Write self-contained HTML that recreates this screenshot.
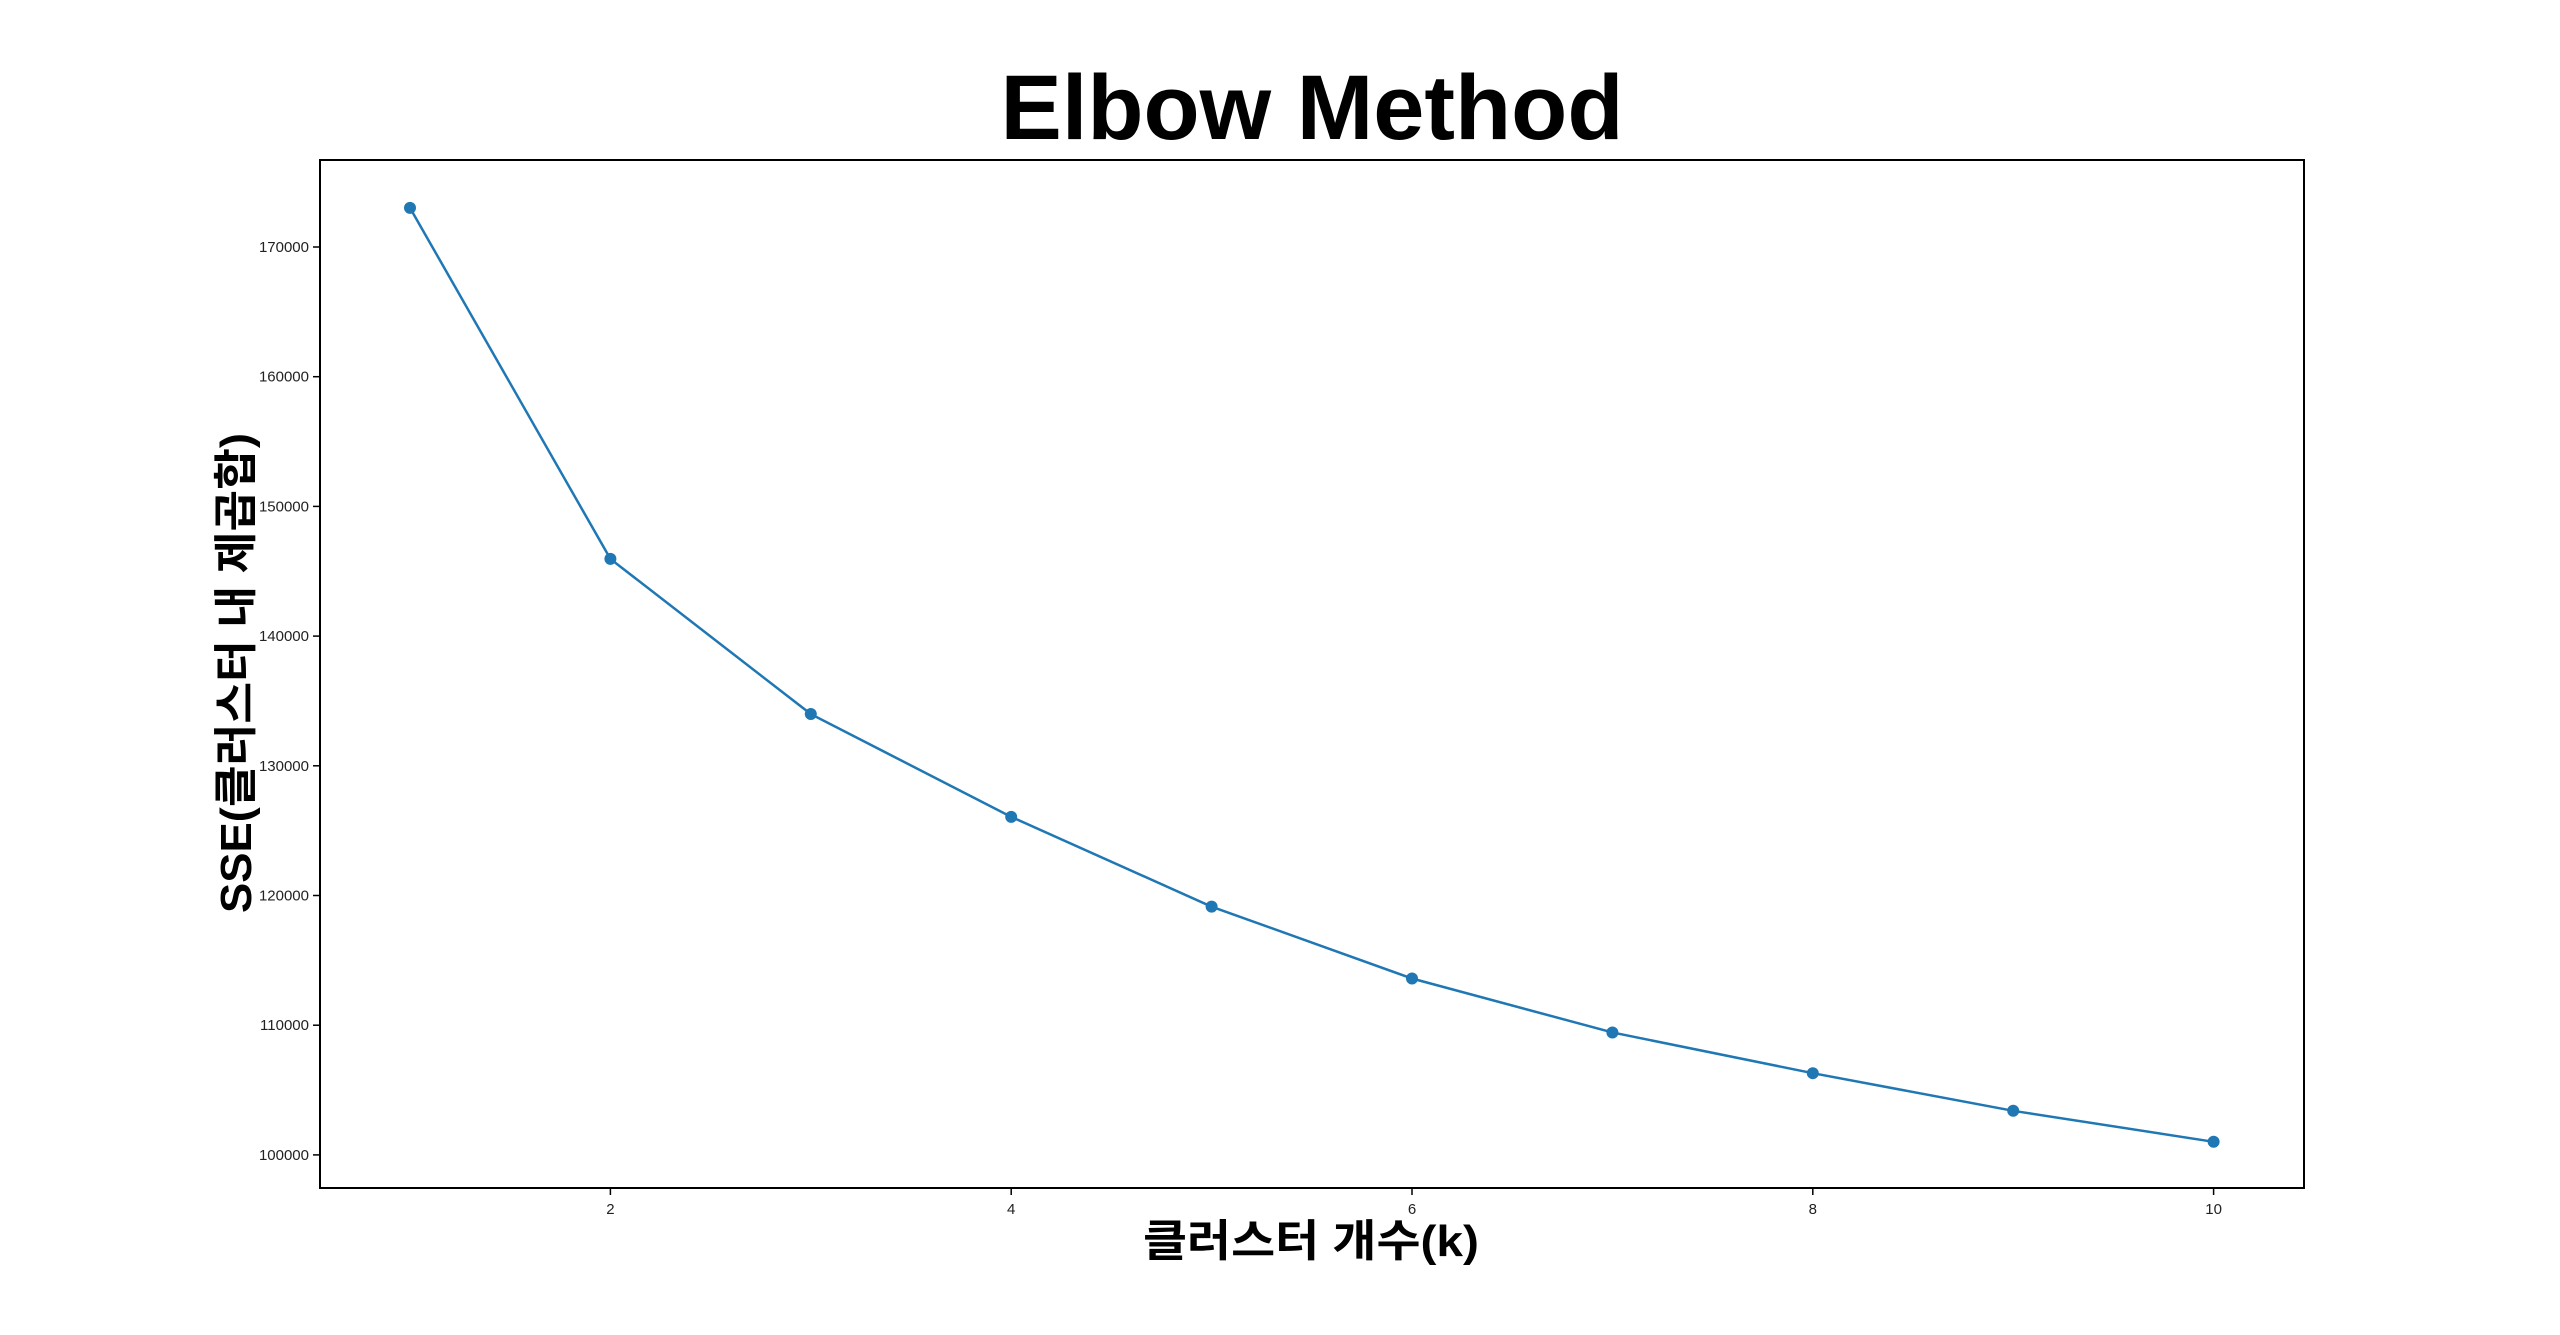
<!DOCTYPE html>
<html><head><meta charset="utf-8"><style>
html,body{margin:0;padding:0;background:#fff;}
svg{display:block;}
text{font-family:"Liberation Sans","Noto Sans CJK KR",sans-serif;}
</style></head><body>
<svg id="chart" width="2560" height="1335" viewBox="0 0 2560 1335" xmlns="http://www.w3.org/2000/svg">
<rect width="2560" height="1335" fill="#fff"/>
<text x="1312" y="139" font-size="92" font-weight="bold" text-anchor="middle" textLength="623" lengthAdjust="spacingAndGlyphs">Elbow Method</text>
<text transform="translate(251,673) rotate(-90)" font-size="44" font-weight="bold" text-anchor="middle" textLength="480" lengthAdjust="spacingAndGlyphs">SSE(클러스터 내 제곱합)</text>
<text x="1311" y="1256" font-size="44" font-weight="bold" text-anchor="middle" textLength="336" lengthAdjust="spacingAndGlyphs">클러스터 개수(k)</text>
<g id="ticks"></g>
<g id="series"></g>
<rect x="320" y="160" width="1984" height="1028" fill="none" stroke="#000" stroke-width="2"/>
</svg>
<script>
const kValues = [1,2,3,4,5,6,7,8,9,10];
const sseValues = [173020,145950,133990,126060,119140,113600,109440,106300,103400,101010];
const xTicks = [2,4,6,8,10];
const yTicks = [100000,110000,120000,130000,140000,150000,160000,170000];
const NS = "http://www.w3.org/2000/svg";
function xs(k){ return 410 + (k-1)*200.4; }
function ys(v){ return 247 + (170000-v)/10000*129.7; }
function mk(tag, attrs, parent){ const e=document.createElementNS(NS,tag); for(const a in attrs) e.setAttribute(a,attrs[a]); parent.appendChild(e); return e; }
const tg=document.getElementById('ticks');
xTicks.forEach(t=>{
  const l=mk('line',{x1:xs(t),x2:xs(t),y1:1188,y2:1195,stroke:'#000','stroke-width':1.5},tg);
  
  
  const tx=mk('text',{x:xs(t),y:1214,'font-size':15,'text-anchor':'middle',fill:'#222'},tg);
  tx.textContent=t;
  
  
});
yTicks.forEach(t=>{
  const l=mk('line',{x1:313,x2:320,y1:ys(t),y2:ys(t),stroke:'#000','stroke-width':1.5},tg);
  
  
  const tx=mk('text',{x:309,y:ys(t)+5,'font-size':15,'text-anchor':'end',fill:'#222'},tg);
  tx.textContent=t;
  
  
});
const sg=document.getElementById('series');
const pts=kValues.map((k,i)=>xs(k)+','+ys(sseValues[i])).join(' ');
const pl=mk('polyline',{points:pts,fill:'none',stroke:'#1f77b4','stroke-width':2.5},sg);


kValues.forEach((k,i)=>{
  const c=mk('circle',{cx:xs(k),cy:ys(sseValues[i]),r:6,fill:'#1f77b4'},sg);
  
  
});
</script>
</body></html>
